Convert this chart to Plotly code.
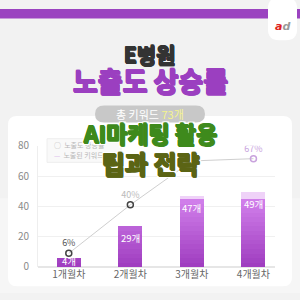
import plotly.graph_objects as go

# ---- data ----
months = ["1개월차", "2개월차", "3개월차", "4개월차"]
keyword_counts = [6, 27, 47, 49.5]          # bar heights as drawn
count_labels = ["4개", "29개", "47개", "49개"]
exposure_rate = [9, 41, 70, 71.5]           # line points as drawn
rate_labels = ["6%", "40%", "", "67%"]
y_ticks = [0, 20, 40, 60, 80]

W = H = 300
FONT = "Noto Sans CJK KR, Noto Sans, sans-serif"


def px(x):
    return x / W


def py(y):
    return 1 - y / H


def rrect(x0, y0, x1, y1, r):
    pts = [f"M {px(x0 + r)},{py(y0)}", f"L {px(x1 - r)},{py(y0)}",
           f"Q {px(x1)},{py(y0)} {px(x1)},{py(y0 + r)}", f"L {px(x1)},{py(y1 - r)}",
           f"Q {px(x1)},{py(y1)} {px(x1 - r)},{py(y1)}", f"L {px(x0 + r)},{py(y1)}",
           f"Q {px(x0)},{py(y1)} {px(x0)},{py(y1 - r)}", f"L {px(x0)},{py(y0 + r)}",
           f"Q {px(x0)},{py(y0)} {px(x0 + r)},{py(y0)}", "Z"]
    return " ".join(pts)


def fakebold(color, w=0.6, halo=None):
    parts = [f"{w}px 0 0 {color}", f"-{w}px 0 0 {color}", f"0 {w}px 0 {color}",
             f"0 -{w}px 0 {color}", f"{w}px {w}px 0 {color}", f"-{w}px -{w}px 0 {color}"]
    if halo:
        h = 1.8
        parts += [f"{h}px {h}px 0 {halo}", f"-{h}px -{h}px 0 {halo}", f"{h}px -{h}px 0 {halo}",
                  f"-{h}px {h}px 0 {halo}", f"{h}px 0 0 {halo}", f"-{h}px 0 0 {halo}",
                  f"0 {h}px 0 {halo}", f"0 -{h}px 0 {halo}"]
    return ", ".join(parts)


fig = go.Figure()

# gradient bars: slices up to a cap, lighter section above
cap = 45
n = 15
step = cap / n
c0 = (158, 60, 190)
c1 = (210, 128, 236)
for k in range(n):
    base = k * step
    t = (k + 0.5) / n
    col = "rgb(%d,%d,%d)" % tuple(round(a + (b - a) * t) for a, b in zip(c0, c1))
    hs = [max(0.0, min(step, v - base)) for v in keyword_counts]
    fig.add_trace(go.Bar(x=months, y=hs, base=[base] * 4, width=0.39,
                         marker=dict(color=col, line=dict(width=0)),
                         showlegend=False, hoverinfo="skip"))
top_h = [max(0.0, v - cap) for v in keyword_counts]
fig.add_trace(go.Bar(x=months, y=top_h, base=[cap] * 4, width=0.39,
                     marker=dict(color="#efd2f8", line=dict(width=0)),
                     showlegend=False, hoverinfo="skip"))

fig.add_trace(go.Scatter(
    x=months, y=exposure_rate, mode="lines+markers+text",
    line=dict(color="#cfcfcf", width=1),
    marker=dict(symbol="circle-open", size=6,
                color=["#444444", "#444444", "#c9a3dd", "#c9a3dd"],
                line=dict(width=1.5)),
    text=rate_labels, textposition="top center",
    textfont=dict(size=9, color=["#555555", "#bbbbbb", "#c9a3dd", "#c9a3dd"], family=FONT),
    showlegend=False, hoverinfo="skip"))

shapes = [
    dict(type="rect", xref="paper", yref="paper", x0=0, x1=1, y0=0, y1=py(200),
         fillcolor="#f6f6f6", line=dict(width=0), layer="below"),
    dict(type="rect", xref="paper", yref="paper", x0=0, x1=1, y0=py(10), y1=1,
         fillcolor="#9b43c0", line=dict(width=0), layer="below"),
    dict(type="path", path=rrect(268, -12, 297, 33, 11), xref="paper", yref="paper",
         fillcolor="white", line=dict(width=0), layer="below"),
    dict(type="path", path=rrect(8, 113, 292, 293, 9), xref="paper", yref="paper",
         fillcolor="white", line=dict(width=0), layer="below"),
    dict(type="path", path=rrect(95, 102, 205, 120, 9), xref="paper", yref="paper",
         fillcolor="#c8c8c8", line=dict(width=0), layer="above"),
    dict(type="rect", xref="paper", yref="paper", x0=px(47), x1=px(121), y0=py(162), y1=py(137),
         fillcolor="rgba(248,248,248,0.9)", line=dict(color="#eeeeee", width=1), layer="below"),
]

annotations = [
    dict(text="E병원", x=0.5, y=py(48),
         font=dict(size=21, color="#333333", family=FONT, weight="bold", shadow=fakebold("#333333", 0.7))),
    dict(text="노출도 상승률", x=0.5, y=py(75),
         font=dict(size=27, color="#9b3fc0", family=FONT, weight="bold", shadow=fakebold("#9b3fc0", 0.8))),
    dict(text="총 키워드 <span style='color:#f4f48c'>73개</span>", x=0.5, y=py(111),
         font=dict(size=11, color="white", family=FONT)),
    dict(text="○  노출도 상승률", x=px(52), y=py(144), xanchor="left",
         font=dict(size=7, color="#b8b8b8", family=FONT)),
    dict(text="<span style='color:#d9b3ea'>—</span>  노출된 키워드 개수", x=px(52), y=py(154), xanchor="left",
         font=dict(size=7, color="#b8b8b8", family=FONT)),
    dict(text="AI마케팅 활용", x=0.5, y=py(131),
         font=dict(size=23, color="#3e8a1c", family=FONT, weight="bold",
                   shadow=fakebold("#3e8a1c", 0.8, "#ffffff"))),
    dict(text="팁과 전략", x=0.503, y=py(163),
         font=dict(size=25, color="#5b6414", family=FONT, weight="bold",
                   shadow=fakebold("#5b6414", 0.9, "#ffffff"))),
    dict(text="<i><span style='color:#e02020'>a</span><span style='color:#9a9a9a'>d</span></i>",
         x=px(282), y=py(18), font=dict(size=11, family="DejaVu Sans", weight="bold")),
]
for a in annotations:
    a.update(xref="paper", yref="paper", showarrow=False)

# bar value labels placed through data coordinates
for m, v, lab in zip(months, keyword_counts, count_labels):
    annotations.append(dict(x=m, y=max(v, 12), xref="x", yref="y", text=lab, showarrow=False,
                            yanchor="top", yshift=-3,
                            font=dict(size=9.5, color="white", family=FONT)))
for a in annotations:
    a.setdefault("xanchor", "center")
    a.setdefault("yanchor", "middle")

fig.update_layout(
    width=W, height=H, margin=dict(l=0, r=0, t=0, b=0),
    paper_bgcolor="#f2f2f2", plot_bgcolor="rgba(0,0,0,0)",
    barmode="overlay", bargap=0, font=dict(family=FONT),
    shapes=shapes, annotations=annotations,
    xaxis=dict(domain=[px(38), px(275)], range=[-0.5, 3.35], type="category",
               showgrid=False, zeroline=False, showline=False, ticks="",
               tickfont=dict(size=10, color="#666666"), fixedrange=True),
    yaxis=dict(domain=[py(272.5), py(144.5)], range=[0, 80], tickvals=y_ticks,
               showgrid=True, gridcolor="#f0f0f0", gridwidth=1,
               zeroline=True, zerolinecolor="#e6e6e6",
               showline=True, linecolor="#eeeeee", ticks="",
               ticklabelstandoff=6,
               tickfont=dict(size=10, color="#8a8a8a"), fixedrange=True),
)

fig.write_html("out.html")
